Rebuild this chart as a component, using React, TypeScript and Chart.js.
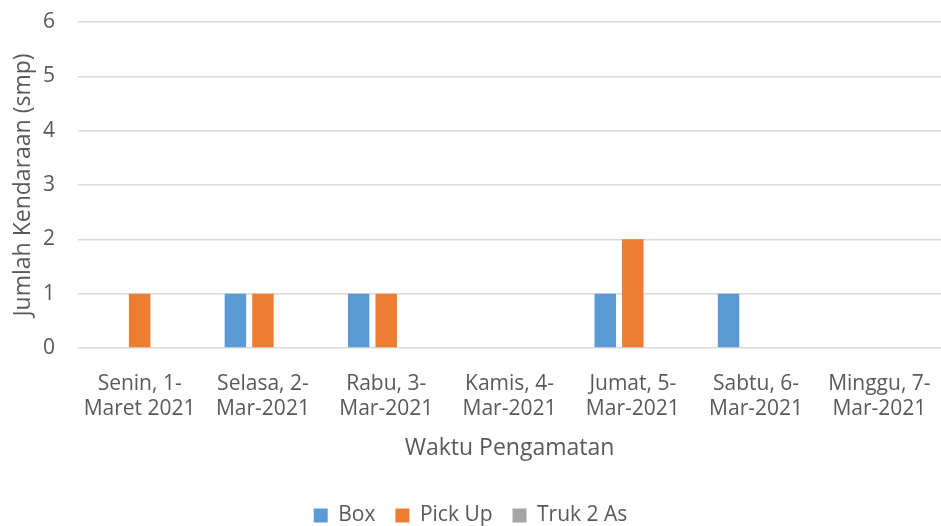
import React, { useEffect, useRef } from "react";
import { Chart, registerables } from "chart.js";

Chart.register(...registerables);

const categories: string[][] = [
  ["Senin, 1-", "Maret 2021"],
  ["Selasa, 2-", "Mar-2021"],
  ["Rabu, 3-", "Mar-2021"],
  ["Kamis, 4-", "Mar-2021"],
  ["Jumat, 5-", "Mar-2021"],
  ["Sabtu, 6-", "Mar-2021"],
  ["Minggu, 7-", "Mar-2021"],
];
const boxValues = [0, 1, 1, 0, 1, 1, 0];
const pickUpValues = [1, 1, 1, 0, 2, 0, 0];
const truk2AsValues = [0, 0, 0, 0, 0, 0, 0];

const FONT = "'Open Sans', sans-serif";
const TEXT = "#595959";
const FS = 21;
const TFS = 23;

export default function App() {
  const ref = useRef<HTMLCanvasElement | null>(null);
  useEffect(() => {
    document.body.style.margin = "0";
    const ctx = ref.current!;
    const chart = new Chart(ctx, {
      type: "bar",
      data: {
        labels: categories,
        datasets: [
          { label: "Box", data: boxValues, backgroundColor: "#5b9bd5" },
          { label: "Pick Up", data: pickUpValues, backgroundColor: "#ed7d31" },
          { label: "Truk 2 As", data: truk2AsValues, backgroundColor: "#a5a5a5" },
        ],
      },
      options: {
        responsive: false,
        animation: false,
        categoryPercentage: 0.67,
        barPercentage: 0.78,
        layout: { padding: { top: 22, right: 0, left: 0, bottom: 0 } },
        plugins: {
          tooltip: { enabled: false },
          legend: {
            position: "bottom",
            labels: {
              font: { family: FONT, size: FS },
              color: TEXT,
              boxWidth: 14,
              boxHeight: 14,
              padding: 20,
            },
          },
        },
        scales: {
          x: {
            grid: { display: false },
            border: { display: false },
            ticks: {
              font: { family: FONT, size: FS, lineHeight: 1.2 },
              color: TEXT,
              maxRotation: 0,
              autoSkip: false,
              padding: 15,
            },
            title: {
              display: true,
              text: "Waktu Pengamatan",
              font: { family: FONT, size: TFS, lineHeight: 1.2 },
              color: TEXT,
              padding: { top: 13, bottom: 23 },
            },
            afterFit: (s: any) => {
              s.paddingLeft = 0;
              s.paddingRight = 0;
              s.height = 137;
            },
          },
          y: {
            min: 0,
            max: 6,
            ticks: {
              stepSize: 1,
              font: { family: FONT, size: FS },
              color: TEXT,
              padding: 23,
            },
            grid: { color: "#d9d9d9", lineWidth: 1.5, drawTicks: false },
            border: { display: false },
            title: {
              display: true,
              text: "Jumlah Kendaraan (smp)",
              font: { family: FONT, size: TFS, lineHeight: 1.2 },
              color: TEXT,
              padding: { top: 10, bottom: 0 },
            },
            afterFit: (s: any) => {
              s.width = 78;
              s.paddingTop = 0;
              s.paddingBottom = 0;
            },
          },
        },
      },
    });
    return () => chart.destroy();
  }, []);
  return (
    <div style={{ width: 941, height: 526, background: "#fff", overflow: "hidden" }}>
      <canvas ref={ref} width={941} height={536} style={{ display: "block" }} />
    </div>
  );
}
